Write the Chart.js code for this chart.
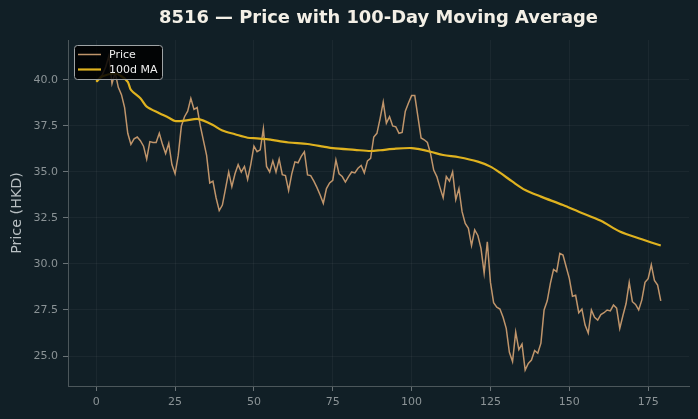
<!DOCTYPE html>
<html>
<head>
<meta charset="utf-8">
<script src="https://cdn.jsdelivr.net/npm/chart.js@4.4.1/dist/chart.umd.min.js"></script>
<style>
  html, body { margin: 0; padding: 0; background: #111f26; }
  canvas { display: block; }
</style>
</head>
<body>
<canvas id="myChart" width="698" height="419"></canvas>
<script>
// daily close prices (day 0 .. 179)
const priceValues = [
  39.95, 40.1, 40.3, 40.7, 41.3, 39.8, 40.4, 39.6, 39.2, 38.5,
  37.1, 36.5, 36.8, 36.9, 36.7, 36.4, 35.7, 36.65, 36.6, 36.6,
  37.1, 36.5, 36.0, 36.55, 35.4, 34.9, 35.9, 37.5, 38.0, 38.3,
  39.0, 38.4, 38.5, 37.5, 36.7, 35.9, 34.4, 34.5, 33.6, 32.9,
  33.2, 34.1, 35.0, 34.2, 34.9, 35.4, 35.0, 35.3, 34.6, 35.4,
  36.4, 36.1, 36.2, 37.35, 35.3, 35.0, 35.6, 35.0, 35.7, 34.85,
  34.8, 34.0, 34.9, 35.55, 35.5, 35.85, 36.1, 34.84, 34.8, 34.5,
  34.15, 33.75, 33.3, 34.1, 34.4, 34.55, 35.65, 34.9, 34.75, 34.45,
  34.75, 35.0, 34.95, 35.2, 35.35, 34.95, 35.6, 35.74, 36.9, 37.1,
  37.9, 38.8, 37.65, 38.0, 37.5, 37.45, 37.1, 37.15, 38.3, 38.75,
  39.15, 39.15, 38.0, 36.85, 36.75, 36.6, 36.0, 35.1, 34.75, 34.15,
  33.6, 34.75, 34.5, 35.0, 33.5, 34.1, 32.84, 32.2, 31.94, 31.0,
  31.85, 31.55, 30.85, 29.5, 31.2, 29.0, 27.9, 27.65, 27.55, 27.1,
  26.5, 25.2, 24.7, 26.3, 25.35, 25.65, 24.24, 24.6, 24.78, 25.3,
  25.15, 25.7, 27.5, 28.0, 28.95, 29.7, 29.58, 30.58, 30.49, 29.85,
  29.22, 28.25, 28.3, 27.35, 27.55, 26.68, 26.25, 27.5, 27.1, 26.95,
  27.25, 27.35, 27.5, 27.45, 27.77, 27.6, 26.5, 27.2, 27.85, 29.0,
  27.95, 27.8, 27.5, 28.05, 29.0, 29.2, 29.95, 29.1, 28.85, 28.0
];

// 100-day moving average at these days
const maDays = [0, 2, 6, 8, 10, 11, 14, 16, 20, 23, 25, 28, 32, 34, 37, 40, 44, 48, 51, 54,
  58, 61, 67, 72, 75, 82, 87, 90, 95, 100, 102, 106, 110, 115, 121, 125, 128, 132, 136, 141,
  148, 153, 160, 166, 173, 179];
const maValues = [39.9, 40.2, 40.35, 40.2, 39.9, 39.46, 39.0, 38.55, 38.19, 37.95, 37.77, 37.79, 37.88, 37.79, 37.55, 37.25, 37.05, 36.86, 36.83, 36.78,
  36.68, 36.6, 36.52, 36.38, 36.29, 36.2, 36.14, 36.18, 36.27, 36.3, 36.25, 36.1, 35.92, 35.8, 35.56, 35.29, 34.96, 34.47, 34.02, 33.66,
  33.2, 32.84, 32.35, 31.76, 31.34, 31.0];

const xTicks = [0, 25, 50, 75, 100, 125, 150, 175];
const yTicks = [25.0, 27.5, 30.0, 32.5, 35.0, 37.5, 40.0];

const titleText = '8516 \u2014 Price with 100-Day Moving Average';
const yLabel = 'Price (HKD)';
const seriesNames = ['Price', '100d MA'];

const bgColor = '#111f26';
const priceColor = '#c0956b';
const maColor = '#dfb21f';
const tickColor = '#8b9396';
const fontFamily = '"DejaVu Sans", sans-serif';

const priceData = priceValues.map((v, i) => ({ x: i, y: v }));
const maData = maDays.map((d, i) => ({ x: d, y: maValues[i] }));

// background, title, y label and legend box
const decorPlugin = {
  id: 'decor',
  beforeDraw(chart) {
    const ctx = chart.ctx;
    ctx.save();
    ctx.fillStyle = bgColor;
    ctx.fillRect(0, 0, chart.width, chart.height);
    ctx.restore();
  },
  afterDraw(chart) {
    const ctx = chart.ctx;
    const area = chart.chartArea;
    ctx.save();

    ctx.fillStyle = '#f3efe6';
    ctx.font = 'bold 17.9px ' + fontFamily;
    ctx.textAlign = 'center';
    ctx.textBaseline = 'middle';
    ctx.fillText(titleText, (area.left + area.right) / 2, 18);

    ctx.translate(17, (area.top + area.bottom) / 2);
    ctx.rotate(-Math.PI / 2);
    ctx.fillStyle = '#b9c0c3';
    ctx.font = '14.3px ' + fontFamily;
    ctx.fillText(yLabel, 0, 0);
    ctx.setTransform(1, 0, 0, 1, 0, 0);

    // legend
    ctx.beginPath();
    ctx.roundRect(74.5, 45.5, 88, 34, 3);
    ctx.fillStyle = 'rgba(0,0,0,0.85)';
    ctx.fill();
    ctx.strokeStyle = '#9ea3a5';
    ctx.lineWidth = 1;
    ctx.stroke();

    const rows = [[priceColor, 1.5, 54.5], [maColor, 2.2, 69.5]];
    ctx.font = '11px ' + fontFamily;
    ctx.textAlign = 'left';
    rows.forEach((r, i) => {
      ctx.beginPath();
      ctx.moveTo(78, r[2]);
      ctx.lineTo(101, r[2]);
      ctx.strokeStyle = r[0];
      ctx.lineWidth = r[1];
      ctx.stroke();
      ctx.fillStyle = '#eeeeee';
      ctx.fillText(seriesNames[i], 109, r[2] + 0.5);
    });
    ctx.restore();
  }
};

const ctx = document.getElementById('myChart');

const myChart = new Chart(ctx, {
  type: 'line',
  data: {
    datasets: [{
      label: seriesNames[0],
      data: priceData,
      borderColor: priceColor,
      borderWidth: 1.5,
      pointRadius: 0,
      tension: 0,
      order: 2
    }, {
      label: seriesNames[1],
      data: maData,
      borderColor: maColor,
      borderWidth: 2.2,
      pointRadius: 0,
      tension: 0.3,
      order: 1
    }]
  },
  options: {
    responsive: false,
    animation: false,
    devicePixelRatio: 1,
    layout: { padding: { top: 40, right: 9, bottom: 0, left: 0 } },
    plugins: {
      legend: { display: false },
      title: { display: false },
      tooltip: { enabled: false }
    },
    scales: {
      x: {
        type: 'linear',
        min: -8.95,
        max: 187.95,
        afterBuildTicks: s => { s.ticks = xTicks.map(v => ({ value: v })); },
        afterFit: s => { s.height = 33; },
        ticks: {
          color: tickColor,
          font: { family: fontFamily, size: 11 },
          padding: 5,
          maxRotation: 0,
          autoSkip: false
        },
        grid: {
          color: 'rgba(255,255,255,0.045)',
          tickColor: '#6a7377',
          tickLength: 5
        },
        border: { color: '#4c575b', width: 1 }
      },
      y: {
        min: 23.37,
        max: 42.17,
        afterBuildTicks: s => { s.ticks = yTicks.map(v => ({ value: v })); },
        afterFit: s => { s.width = 68; },
        ticks: {
          color: tickColor,
          font: { family: fontFamily, size: 11 },
          padding: 5,
          callback: v => Number(v).toFixed(1)
        },
        grid: {
          color: 'rgba(255,255,255,0.045)',
          tickColor: '#6a7377',
          tickLength: 5
        },
        border: { color: '#4c575b', width: 1 }
      }
    }
  },
  plugins: [decorPlugin]
});
</script>
</body>
</html>
